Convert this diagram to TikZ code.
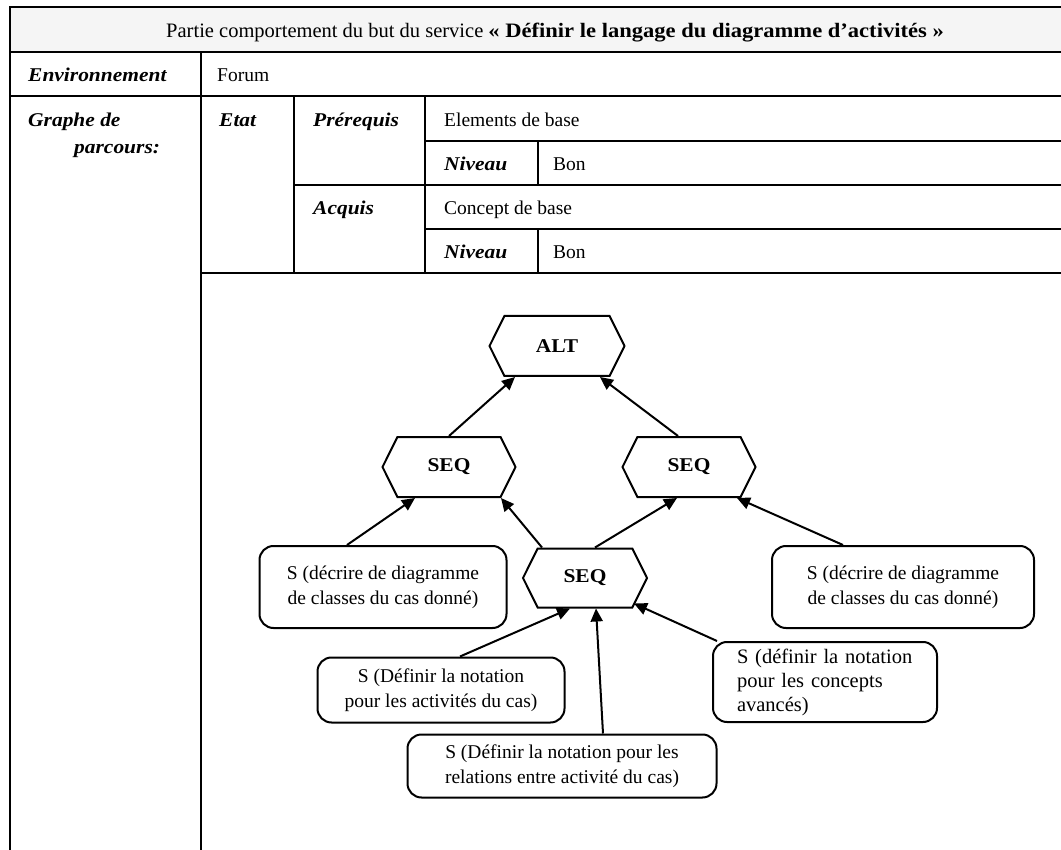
\documentclass[tikz,border=0pt]{standalone}
\usepackage{fontspec}
\setmainfont{Liberation Serif}[
    BoldFeatures={FakeStretch=1.1},
    BoldItalicFeatures={FakeStretch=1.1}]
\usetikzlibrary{shapes.symbols,arrows.meta}

\begin{document}
\begin{tikzpicture}[
       x=1pt, y=-1pt,
       font=\fontsize{19.5}{25}\selectfont,
       grid/.style={line width=2pt},
       cell/.style={anchor=base west, inner sep=0pt},
       head/.style={
           cell,
           font=\fontsize{19.5}{25}\selectfont\bfseries\itshape
       },
       hexa/.style={
           signal,
           signal to=west and east,
           signal pointer angle=127,
           draw,
           line width=2pt,
           minimum width=133pt,
           minimum height=60pt,
           inner sep=0pt,
           font=\fontsize{19.5}{25}\selectfont\bfseries
       },
       sbox/.style={
           draw,
           line width=2pt,
           rounded corners=14pt,
           align=center,
           inner sep=0pt
       },
       link/.style={line width=2pt, -{Triangle[length=13pt,width=12pt]}}
   ]

   \useasboundingbox (0,0) rectangle (1061,850);

   % Table
   \fill[gray!8] (9.5,7) rectangle (1061,52);
   \draw[grid] (9.5,850) -- (9.5,7) -- (1061,7);
   \draw[grid] (9.5,52) -- (1061,52);
   \draw[grid] (9.5,96) -- (1061,96);
   \draw[grid] (201,52) -- (201,850);
   \draw[grid] (425,141) -- (1061,141);
   \draw[grid] (294,185) -- (1061,185);
   \draw[grid] (425,229) -- (1061,229);
   \draw[grid] (201,273) -- (1061,273);
   \draw[grid] (294,96) -- (294,273);
   \draw[grid] (425,96) -- (425,273);
   \draw[grid] (538,141) -- (538,185);
   \draw[grid] (538,229) -- (538,273);


   % Cells
   \node[anchor=base, inner sep=0pt, font=\fontsize{20.5}{25}\selectfont] (title) at (555,38)
       {Partie comportement du but du service \textbf{« Définir le langage du diagramme d’activités »}};
   \node[head] (env) at (28,82) {Environnement};
   \node[cell] (forum) at (217,82) {Forum};
   \node[head] (graphe) at (28,127) {Graphe de};
   \node[head] (parcours) at (74,154) {parcours:};
   \node[head] (etat) at (219,127) {Etat};
   \node[head] (prereq) at (313,127) {Prérequis};
   \node[cell] (elem) at (444,127) {Elements de base};
   \node[head] (niv1) at (444,171) {Niveau};
   \node[cell] (bon1) at (553,171) {Bon};
   \node[head] (acquis) at (313,215) {Acquis};
   \node[cell] (concept) at (444,215) {Concept de base};
   \node[head] (niv2) at (444,259) {Niveau};
   \node[cell] (bon2) at (553,259) {Bon};


   % Operators
   \node[hexa, minimum width=135pt] (alt) at (557,346) {ALT};
   \node[hexa] (lseq) at (449,467) {SEQ};
   \node[hexa] (rseq) at (689,467) {SEQ};
   \node[hexa, minimum width=124pt, minimum height=59pt] (mseq) at (585,578) {SEQ};


   % Services
   \node[sbox, minimum width=247pt, minimum height=82pt] (sleft) at (383,587)
       {S (décrire de diagramme\\de classes du cas donné)};
   \node[sbox, minimum width=262pt, minimum height=82pt] (sright) at (903,587)
       {S (décrire de diagramme\\de classes du cas donné)};
   \node[sbox, minimum width=247pt, minimum height=65pt] (sact) at (441,690)
       {S (Définir la notation\\pour les activités du cas)};
   \node[sbox, minimum width=309pt, minimum height=63pt] (srel) at (562,766)
       {S (Définir la notation pour les\\relations entre activité du cas)};
   \node[sbox, align=left, text width=176pt, inner xsep=24pt, minimum height=80pt,
         font=\fontsize{20.5}{24}\selectfont] (sconc) at (825,682)
       {S (définir la notation\\pour les concepts\\avancés)};


   % Links
   \draw[link] (lseq.north) -- ([xshift=-42pt]alt.south);
   \draw[link] ([xshift=-11pt]rseq.north) -- ([xshift=43pt]alt.south);
   \draw[link] ([xshift=-36pt]sleft.north) -- ([xshift=-34pt]lseq.south);
   \draw[link] ([xshift=-43pt]mseq.north) -- ([xshift=52pt]lseq.south);
   \draw[link] ([xshift=10pt]mseq.north) -- ([xshift=-12pt]rseq.south);
   \draw[link] ([xshift=-60pt]sright.north) -- ([xshift=48pt]rseq.south);
   \draw[link] ([xshift=19pt]sact.north) -- ([xshift=-15pt]mseq.south);
   \draw[link] ([xshift=41pt]srel.north) -- ([xshift=11pt]mseq.south);
   \draw[link] ([xshift=-108pt]sconc.north) -- ([xshift=49pt,yshift=5pt]mseq.south);

   \end{tikzpicture}
\end{document}
